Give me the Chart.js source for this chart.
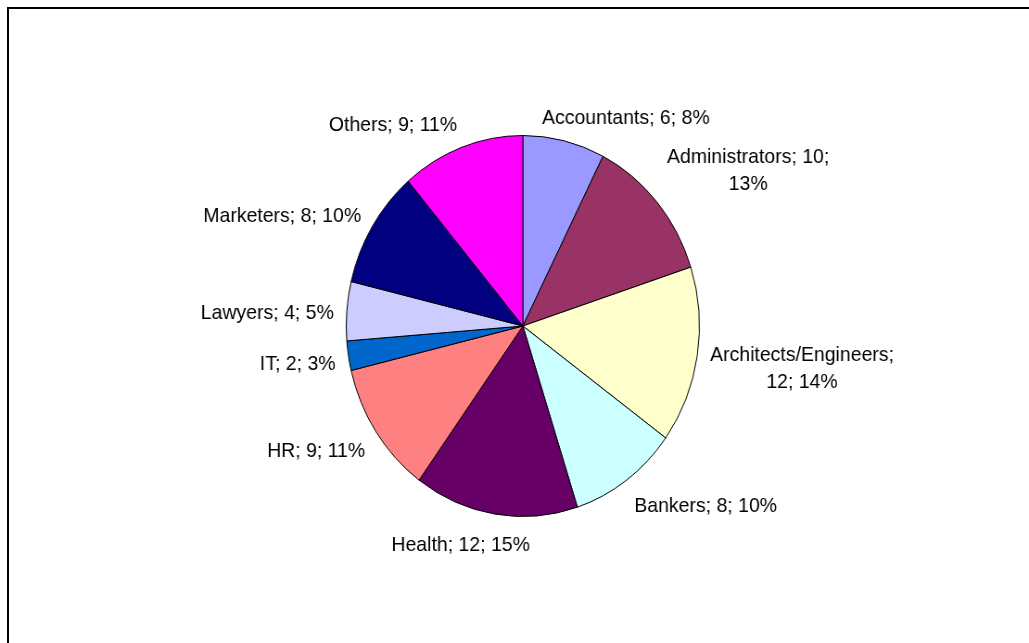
<!DOCTYPE html>
<html>
<head>
<meta charset="utf-8">
<script src="https://cdn.jsdelivr.net/npm/chart.js@4/dist/chart.umd.min.js"></script>
<style>
  html, body { margin: 0; padding: 0; background: #fff; overflow: hidden; width: 1029px; height: 643px; }
  #frame { position: absolute; left: 7px; top: 7px; width: 1100px; height: 700px;
           border-left: 2px solid #000; border-top: 2px solid #000; box-sizing: border-box; }
  #wrap { position: absolute; left: 0; top: 0; width: 1110px; height: 643px;
          transform: scaleX(0.927); transform-origin: 0 0; }
</style>
</head>
<body>
<div id="frame"></div>
<div id="wrap"><canvas id="c"></canvas></div>
<script>
const categories = ["Accountants", "Administrators", "Architects/Engineers", "Bankers", "Health", "HR", "IT", "Lawyers", "Marketers", "Others"];
const values = [6, 10, 12, 8, 12, 9, 2, 4, 8, 9];
const percentLabels = [8, 13, 14, 10, 15, 11, 3, 5, 10, 11];
const colors = ["#9999FF", "#993366", "#FFFFCC", "#CCFFFF", "#660066", "#FF8080", "#0066CC", "#CCCCFF", "#000080", "#FF00FF"];

const FONT = '21px "Liberation Sans", Arial, sans-serif';
const LINE_H = 27;
const MAX_W = 200;

function wrapText(ctx, text, maxW) {
  const words = text.split(' ');
  const lines = [];
  let cur = '';
  for (const w of words) {
    const test = cur ? cur + ' ' + w : w;
    if (cur && ctx.measureText(test).width > maxW) { lines.push(cur); cur = w; }
    else cur = test;
  }
  if (cur) lines.push(cur);
  return lines;
}

const labelPlugin = {
  id: 'outsideLabels',
  afterDatasetsDraw(chart) {
    const ctx = chart.ctx;
    const meta = chart.getDatasetMeta(0);
    ctx.save();
    ctx.font = FONT;
    ctx.fillStyle = '#000';
    ctx.textAlign = 'center';
    ctx.textBaseline = 'middle';
    meta.data.forEach((arc, i) => {
      const p = arc.getProps(['x', 'y', 'startAngle', 'endAngle', 'outerRadius'], true);
      const mid = (p.startAngle + p.endAngle) / 2;
      const c = Math.cos(mid), s = Math.sin(mid);
      const R = p.outerRadius + 14;
      const ax = p.x + c * R, ay = p.y + s * R;
      const text = categories[i] + '; ' + values[i] + '; ' + percentLabels[i] + '%';
      const lines = wrapText(ctx, text, MAX_W);
      const w = Math.max(...lines.map(l => ctx.measureText(l).width));
      const h = 21 + (lines.length - 1) * 2 * LINE_H;
      const k = Math.max(-1, Math.min(1, 3 * c));
      const cx = ax + k * w / 2;
      const cy = ay + s * h / 2 + 4 + 3 * s;
      const top = cy - (lines.length - 1) * LINE_H / 2;
      lines.forEach((l, j) => ctx.fillText(l, cx, top + j * LINE_H));
    });
    ctx.restore();
  }
};

new Chart(document.getElementById('c'), {
  type: 'pie',
  data: {
    labels: categories,
    datasets: [{
      data: values,
      backgroundColor: colors,
      borderColor: '#000',
      borderWidth: 1,
      borderAlign: 'center'
    }]
  },
  options: {
    responsive: true,
    maintainAspectRatio: false,
    animation: false,
    layout: { padding: { left: 373, right: 355, top: 135, bottom: 126 } },
    plugins: { legend: { display: false }, tooltip: { enabled: false } }
  },
  plugins: [labelPlugin]
});
</script>
</body>
</html>
